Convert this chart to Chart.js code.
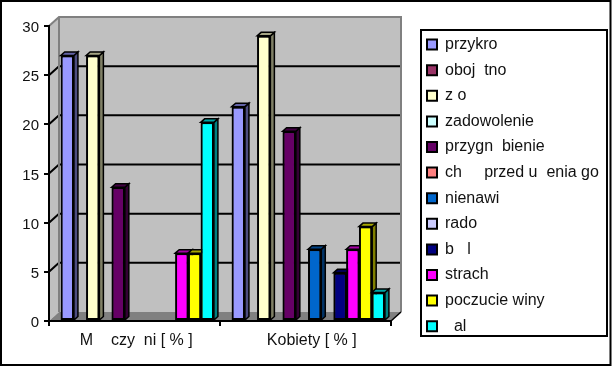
<!DOCTYPE html>
<html><head><meta charset="utf-8">
<style>html,body{margin:0;padding:0;background:#fff}canvas{display:block}</style>
<script src="https://cdn.jsdelivr.net/npm/chart.js@4"></script></head>
<body><canvas id="c" width="612" height="367"></canvas>
<script>
const categories = ["M    czy  ni [ % ] ", " Kobiety [ % ]"];
const seriesNames = ["przykro","oboj  tno","z o","zadowolenie","przygn  bienie","ch     przed u  enia go","nienawi","rado","b   l","strach","poczucie winy","  al"];
const men   = [27, null, 27, null, 13.6, null, null, null, null, 6.9, 6.9, 20.2];
const women = [21.8, null, 29, null, 19.3, null, 7.3, null, 4.9, 7.3, 9.6, 2.9];
const seriesColors = ["#9999FF","#993366","#FFFFCC","#CCFFFF","#660066","#FF8080","#0066CC","#CCCCFF","#000080","#FF00FF","#FFFF00","#00FFFF"];

const FONT = "'Liberation Sans', Arial, sans-serif";
const WALL_DX = 10, WALL_DY = 9, BAR_DX = 4, BAR_DY = 3.5, BAR_SHIFT = 2.8;

function shade(hex, f){
  const n = parseInt(hex.slice(1),16);
  return `rgb(${Math.round((n>>16&255)*f)},${Math.round((n>>8&255)*f)},${Math.round((n&255)*f)})`;
}
function poly(ctx, pts, fill, stroke, lw){
  ctx.beginPath();
  pts.forEach((p,i)=> i?ctx.lineTo(p[0],p[1]):ctx.moveTo(p[0],p[1]));
  ctx.closePath();
  if(fill){ctx.fillStyle=fill;ctx.fill();}
  if(stroke){ctx.strokeStyle=stroke;ctx.lineWidth=lw;ctx.stroke();}
}
const threeD = {
  id:"threeD",
  afterLayout(chart){
    const l = chart.legend;
    l.left = 417.4; l.right = 610; l.top = 27; l.bottom = 345;
  },
  afterDatasetsUpdate(chart){
    chart.data.datasets.forEach((ds,i)=>{
      chart.getDatasetMeta(i).data.forEach(el=>{ el.x += BAR_SHIFT; });
    });
  },
  beforeDraw(chart){
    const ctx = chart.ctx, a = chart.chartArea, y = chart.scales.y;
    ctx.save();
    ctx.fillStyle="#fff"; ctx.fillRect(0,0,chart.width,chart.height);
    const L=a.left,R=a.right,T=a.top,B=a.bottom;
    poly(ctx,[[L,T],[L+WALL_DX,T-WALL_DY],[L+WALL_DX,B-WALL_DY],[L,B]],"#C0C0C0");
    poly(ctx,[[L+WALL_DX,T-WALL_DY],[R+WALL_DX,T-WALL_DY],[R+WALL_DX,B-WALL_DY],[L+WALL_DX,B-WALL_DY]],"#C0C0C0");
    poly(ctx,[[L,B],[L+WALL_DX,B-WALL_DY],[R+WALL_DX,B-WALL_DY],[R,B]],"#808080");
    ctx.lineCap="butt";
    y.ticks.forEach(t=>{
      const py=y.getPixelForValue(t.value);
      if(t.value===0||t.value===30) return;
      ctx.strokeStyle="#000";ctx.lineWidth=2;
      ctx.beginPath();ctx.moveTo(L,py);ctx.lineTo(L+WALL_DX,py-WALL_DY);ctx.lineTo(R+WALL_DX-1,py-WALL_DY);ctx.stroke();
    });
    ctx.strokeStyle="#808080";ctx.lineWidth=2;
    ctx.beginPath();
    ctx.moveTo(L,T);ctx.lineTo(L+WALL_DX,T-WALL_DY);ctx.lineTo(R+WALL_DX,T-WALL_DY);ctx.lineTo(R+WALL_DX,B-WALL_DY);
    ctx.moveTo(L+WALL_DX,T-WALL_DY);ctx.lineTo(L+WALL_DX,B-WALL_DY);
    ctx.stroke();
    ctx.strokeStyle="#000";ctx.lineWidth=1.5;
    ctx.beginPath();ctx.moveTo(R,B);ctx.lineTo(R+WALL_DX,B-WALL_DY);ctx.stroke();
    ctx.restore();
  },
  afterDatasetsDraw(chart){
    const ctx=chart.ctx;
    ctx.save();
    chart.data.datasets.forEach((ds,i)=>{
      const meta=chart.getDatasetMeta(i);
      meta.data.forEach((el,j)=>{
        if(ds.data[j]==null) return;
        const {x,y,base,width}=el.getProps(["x","y","base","width"],true);
        const l=x-width/2,r=x+width/2;
        poly(ctx,[[r,y],[r+BAR_DX,y-BAR_DY],[r+BAR_DX,base-BAR_DY],[r,base]],shade(ds.backgroundColor,.5),"#000",1.5);
        poly(ctx,[[l,y],[l+BAR_DX,y-BAR_DY],[r+BAR_DX,y-BAR_DY],[r,y]],shade(ds.backgroundColor,.65),"#000",1.5);
        el.draw(ctx);
      });
    });
    ctx.restore();
  },
  afterDraw(chart){
    const ctx=chart.ctx;
    ctx.save();
    ctx.strokeStyle="#000";ctx.lineWidth=2;
    ctx.strokeRect(1,1,chart.width-2.5,chart.height-3);
    ctx.strokeRect(421,30,186,306);
    ctx.restore();
  }
};
new Chart(document.getElementById("c"),{
  type:"bar",
  data:{labels:categories,datasets:seriesNames.map((n,i)=>({
    label:n,data:[men[i],women[i]],backgroundColor:seriesColors[i],
    borderColor:"#000",borderWidth:2,borderSkipped:false
  }))},
  plugins:[threeD],
  options:{
    responsive:false,animation:false,
    layout:{padding:{left:0,top:26,right:121,bottom:0}},
    datasets:{bar:{barPercentage:1.04,categoryPercentage:.893}},
    scales:{
      x:{
        afterFit(s){s.height=46;},
        border:{color:"#000",width:2},
        grid:{drawOnChartArea:false,color:"#000",lineWidth:2,tickLength:5,offset:true},
        ticks:{color:"#111",font:{family:FONT,size:16},padding:5,maxRotation:0,labelOffset:4}
      },
      y:{
        min:0,max:30,
        afterFit(s){s.width=49;},
        border:{color:"#000",width:2},
        grid:{drawOnChartArea:false,color:"#000",lineWidth:2,tickLength:5},
        ticks:{stepSize:5,color:"#111",font:{family:FONT,size:15},padding:5,labelOffset:2}
      }
    },
    plugins:{
      tooltip:{enabled:false},
      legend:{
        position:"right",align:"start",maxWidth:100,
        labels:{boxWidth:10,boxHeight:10,padding:9.6,color:"#111",font:{family:FONT,size:16}}
      }
    }
  }
});
</script></body></html>
